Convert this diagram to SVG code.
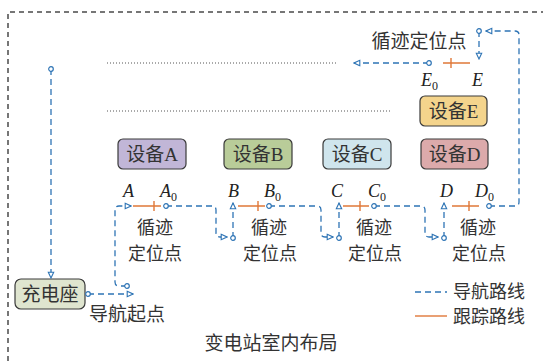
<svg xmlns="http://www.w3.org/2000/svg" width="543" height="361" viewBox="0 0 543 361">
  <style>
    .cn { font-family: "Noto Sans CJK SC", "Noto Sans", sans-serif; fill: #333; font-size: 19px; }
    .sm { font-size: 18px; }
    .lbl { font-family: "Liberation Serif", "Times New Roman", serif; font-style: italic; fill: #222; font-size: 18px; }
    .sub { font-style: normal; font-size: 12px; }
    .box { stroke: #3a3a3a; stroke-width: 1.2; }
    .nav { fill: none; stroke: #2e74b5; stroke-width: 1.3; stroke-dasharray: 6 4; }
    .trk { fill: none; stroke: #e07838; stroke-width: 1.4; }
    .dots { fill: none; stroke: #555; stroke-width: 1; stroke-dasharray: 1 2; }
    .frame { fill: none; stroke: #4a4a4a; stroke-width: 1.5; stroke-dasharray: 5 4; }
  </style>
  <defs>
    <marker id="arr" viewBox="0 0 8 8" refX="7" refY="4" markerWidth="8" markerHeight="8" orient="auto" markerUnits="userSpaceOnUse">
      <path d="M1.2,1.3 L7,4 L1.2,6.7 Z" fill="#fff" stroke="#2e74b5" stroke-width="1.1"/>
    </marker>
    <marker id="dot" viewBox="0 0 8 8" refX="4" refY="4" markerWidth="8" markerHeight="8" markerUnits="userSpaceOnUse">
      <circle cx="4" cy="4" r="2.3" fill="#fff" stroke="#2e74b5" stroke-width="1.2"/>
    </marker>
  </defs>

  <rect width="543" height="361" fill="#fff"/>

  <!-- room boundary -->
  <path class="frame" d="M8,361 V12 H543"/>

  <!-- aisle lines -->
  <path class="dots" d="M107,63 H336"/>
  <path class="dots" d="M107,111 H391"/>

  <!-- equipment -->
  <g id="device-a">
    <rect class="box" x="118" y="139" width="68" height="30" rx="5" fill="#c1b6d7"/>
    <text class="cn" x="152" y="161" text-anchor="middle">设备<tspan font-family="Liberation Serif, serif">A</tspan></text>
  </g>
  <g id="device-b">
    <rect class="box" x="224" y="139" width="68" height="30" rx="5" fill="#b9cc99"/>
    <text class="cn" x="258" y="161" text-anchor="middle">设备<tspan font-family="Liberation Serif, serif">B</tspan></text>
  </g>
  <g id="device-c">
    <rect class="box" x="323" y="139" width="68" height="30" rx="5" fill="#cfe5ed"/>
    <text class="cn" x="357" y="161" text-anchor="middle">设备<tspan font-family="Liberation Serif, serif">C</tspan></text>
  </g>
  <g id="device-d">
    <rect class="box" x="421" y="139" width="67" height="30" rx="5" fill="#dcaaab"/>
    <text class="cn" x="454.5" y="161" text-anchor="middle">设备<tspan font-family="Liberation Serif, serif">D</tspan></text>
  </g>
  <g id="device-e">
    <rect class="box" x="420" y="96" width="67" height="30" rx="5" fill="#f4d48c"/>
    <text class="cn" x="453.5" y="118" text-anchor="middle">设备<tspan font-family="Liberation Serif, serif">E</tspan></text>
  </g>

  <!-- charging dock -->
  <g id="charger">
    <rect class="box" x="15" y="279" width="70" height="30" rx="6" fill="#dfe5cf"/>
    <text class="cn" x="50" y="301" text-anchor="middle">充电座</text>
    <text class="cn" x="89" y="321">导航起点</text>
  </g>

  <!-- tracking segments -->
  <g id="track-a">
    <path class="trk" d="M133,206 H161 M154,201 V211"/>
    <text class="lbl" x="123" y="197">A</text>
    <text class="lbl" x="160" y="197">A<tspan class="sub" dy="4">0</tspan></text>
    <text class="cn sm" x="155" y="234" text-anchor="middle">循迹</text>
    <text class="cn sm" x="155" y="260" text-anchor="middle">定位点</text>
  </g>
  <g id="track-b">
    <path class="trk" d="M238,206 H265 M258,201 V211"/>
    <text class="lbl" x="228" y="197">B</text>
    <text class="lbl" x="264" y="197">B<tspan class="sub" dy="4">0</tspan></text>
    <text class="cn sm" x="269" y="234" text-anchor="middle">循迹</text>
    <text class="cn sm" x="270" y="260" text-anchor="middle">定位点</text>
  </g>
  <g id="track-c">
    <path class="trk" d="M343,206 H369 M360,201 V211"/>
    <text class="lbl" x="331" y="197">C</text>
    <text class="lbl" x="368" y="197">C<tspan class="sub" dy="4">0</tspan></text>
    <text class="cn sm" x="374" y="234" text-anchor="middle">循迹</text>
    <text class="cn sm" x="375" y="260" text-anchor="middle">定位点</text>
  </g>
  <g id="track-d">
    <path class="trk" d="M452,206 H479 M469,201 V211"/>
    <text class="lbl" x="440" y="197">D</text>
    <text class="lbl" x="475" y="197">D<tspan class="sub" dy="4">0</tspan></text>
    <text class="cn sm" x="478" y="234" text-anchor="middle">循迹</text>
    <text class="cn sm" x="479" y="260" text-anchor="middle">定位点</text>
  </g>
  <g id="track-e">
    <path class="trk" d="M443,63 H470 M451,58 V68"/>
    <text class="lbl" x="421" y="86">E<tspan class="sub" dy="4">0</tspan></text>
    <text class="lbl" x="472" y="86">E</text>
    <text class="cn" x="419" y="48" text-anchor="middle">循迹定位点</text>
  </g>

  <!-- navigation connectors -->
  <g id="connectors">
    <path class="nav" marker-start="url(#dot)" marker-end="url(#arr)" d="M51,69 V278"/>
    <path class="nav" marker-start="url(#dot)" marker-end="url(#arr)" d="M88,294 H133"/>
    <path class="nav" marker-start="url(#dot)" marker-end="url(#arr)" d="M127,286 H119 Q115,286 115,282 V210 Q115,206 119,206 H131"/>
    <path class="nav" marker-start="url(#dot)" marker-end="url(#arr)" d="M166,206 H212 Q216,206 216,210 V233 Q216,237 220,237 H227"/>
    <path class="nav" marker-start="url(#dot)" marker-end="url(#arr)" d="M233,238 V203"/>
    <path class="nav" marker-start="url(#dot)" marker-end="url(#arr)" d="M269,206 H317 Q321,206 321,210 V233 Q321,237 325,237 H333"/>
    <path class="nav" marker-start="url(#dot)" marker-end="url(#arr)" d="M339,238 V203"/>
    <path class="nav" marker-start="url(#dot)" marker-end="url(#arr)" d="M374,206 H421 Q425,206 425,210 V233 Q425,237 429,237 H438"/>
    <path class="nav" marker-start="url(#dot)" marker-end="url(#arr)" d="M444,238 V203"/>
    <path class="nav" marker-start="url(#dot)" marker-end="url(#arr)" d="M489,206 H515 Q519,206 519,202 V35 Q519,31 515,31 H486"/>
    <path class="nav" marker-start="url(#dot)" marker-end="url(#arr)" d="M479,31 V59"/>
    <path class="nav" marker-start="url(#dot)" marker-end="url(#arr)" d="M429,63 H354"/>
  </g>

  <!-- legend -->
  <g id="legend">
    <path class="nav" d="M415,292 H447" stroke-dasharray="7 4"/>
    <text class="cn sm" x="453" y="298">导航路线</text>
    <path class="trk" d="M415,316 H447"/>
    <text class="cn sm" x="453" y="323">跟踪路线</text>
  </g>

  <text id="title" class="cn" x="271" y="350" text-anchor="middle">变电站室内布局</text>
</svg>
